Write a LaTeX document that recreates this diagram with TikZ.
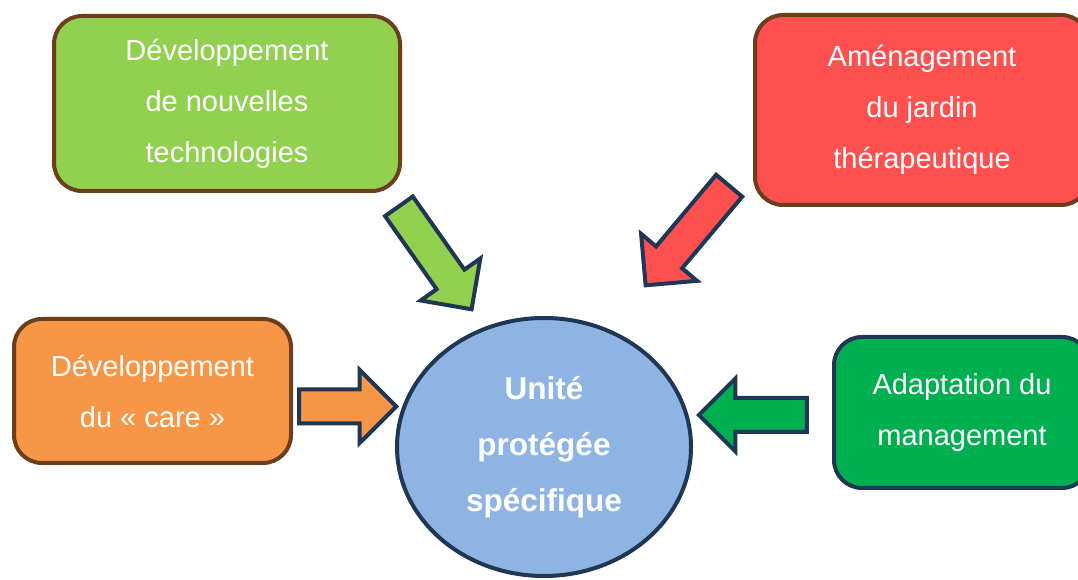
\documentclass[tikz,border=0pt]{standalone}
\usepackage{fontspec}
\setmainfont{Liberation Sans}
\usetikzlibrary{shapes.arrows,shapes.geometric}
\definecolor{vertclair}{RGB}{146,208,80}
\definecolor{rouge}{RGB}{255,80,80}
\definecolor{orange}{RGB}{247,150,70}
\definecolor{vertfonce}{RGB}{0,176,80}
\definecolor{bleu}{RGB}{142,180,227}
\definecolor{marine}{RGB}{31,54,84}
\definecolor{brun}{RGB}{107,62,28}
\begin{document}
\begin{tikzpicture}[x=1pt,y=1pt,
 cadre/.style={draw=brun,line width=4pt,rounded corners=28pt,text=white,align=center,inner sep=0pt,font=\fontsize{29}{51}\selectfont},
 fleche/.style={single arrow,anchor=tip,draw=marine,line width=4pt,inner sep=0pt,text height=30pt,text depth=0pt,single arrow head extend=19.5pt}]
 \useasboundingbox (0,0) rectangle (1078,580);
 \node[cadre,fill=vertclair,minimum width=346pt,minimum height=175pt] (techno) at (227,476.5) {Développement\\de nouvelles\\technologies};
 \node[cadre,fill=rouge,minimum width=334pt,minimum height=190pt] (jardin) at (922,470) {Aménagement\\du jardin\\thérapeutique};
 \node[cadre,fill=orange,minimum width=277pt,minimum height=144pt] (care) at (152.5,189) {Développement\\du « care »};
 \node[cadre,draw=marine,fill=vertfonce,minimum width=256pt,minimum height=151pt] (management) at (962,167.5) {Adaptation du\\management};
 \node[ellipse,draw=marine,line width=4pt,fill=bleu,minimum width=294pt,minimum height=258pt,inner sep=0pt,text=white,align=center,font=\fontsize{31.5}{56}\selectfont\bfseries] (unite) at (544,133) {Unité\\protégée\\spécifique};
 \node[fleche,fill=vertclair,minimum height=126pt,rotate=-54.8] (fltechno) at (473.2,268.4) {};
 \node[fleche,fill=rouge,minimum height=130pt,rotate=-130] (fljardin) at (643.8,292.5) {};
 \node[fleche,fill=orange,minimum height=97pt] (flcare) at (399,173.5) {};
 \node[fleche,fill=vertfonce,minimum height=108pt,rotate=180] (flmanagement) at (696,165) {};
\end{tikzpicture}
\end{document}
